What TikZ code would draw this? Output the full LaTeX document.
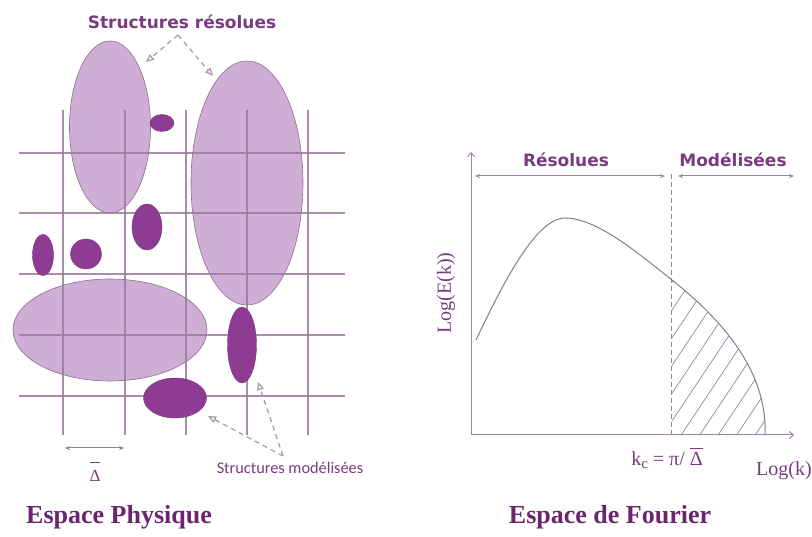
\documentclass[tikz,border=0pt]{standalone}
\usepackage{fontspec}
\setmainfont{Liberation Serif}
\newfontfamily\djv{DejaVu Sans}
\newfontfamily\carl{Carlito}
\usetikzlibrary{shapes.geometric,arrows.meta}
\definecolor{lightc}{HTML}{CFAED5}
\definecolor{lightedge}{HTML}{8C6E90}
\definecolor{darkc}{HTML}{8E3C93}
\definecolor{gridc}{HTML}{9A7A9E}
\definecolor{txtc}{HTML}{7A3A80}
\definecolor{ttlc}{HTML}{6A2470}
\definecolor{axc}{HTML}{9A84A0}
\definecolor{dashc}{HTML}{A8A0A8}
\begin{document}
\begin{tikzpicture}[x=1pt,y=-1pt,
  lightell/.style={ellipse, fill=lightc, draw=lightedge, line width=0.6pt, inner sep=0pt},
  darkell/.style={ellipse, fill=darkc, draw=darkc!85!black, line width=0.4pt, inner sep=0pt},
  gridline/.style={draw=gridc, line width=1.3pt, opacity=0.85},
  ptr/.style={draw=dashc, dash pattern=on 5pt off 4pt, line width=1.3pt, -{Triangle[open, length=8pt, width=7pt]}},
  axisline/.style={draw=axc, line width=1pt},
  span/.style={draw=axc, line width=1pt, {Stealth[length=5pt,width=4pt]}-{Stealth[length=5pt,width=4pt]}},
  hatchline/.style={draw=axc!90!black, line width=0.6pt},
  sanslab/.style={font=\djv\bfseries\fontsize{17}{19}\selectfont, text=txtc, inner sep=1pt},
  serlab/.style={font=\fontsize{20}{22}\selectfont, text=txtc, inner sep=1pt},
  ttl/.style={font=\bfseries\fontsize{26}{29}\selectfont, text=ttlc, inner sep=1pt}
]
\useasboundingbox (0,0) rectangle (812,537);

% ---------- Espace physique ----------
\node[lightell, minimum width=81pt, minimum height=172pt] (L1) at (110,127) {};
\node[lightell, minimum width=112pt, minimum height=244pt] (L2) at (247,183) {};
\node[lightell, minimum width=194pt, minimum height=102pt] (L3) at (110,330) {};

\foreach \x in {63,125,186,247,308}
  \draw[gridline] (\x,110) -- (\x,435);
\foreach \y in {153,213,274,335,396}
  \draw[gridline] (19,\y) -- (345,\y);

\node[darkell, minimum width=24pt, minimum height=17pt] (D1) at (162,123) {};
\node[darkell, minimum width=30pt, minimum height=46pt] (D2) at (147,227) {};
\node[darkell, minimum width=21pt, minimum height=41pt] (D3) at (43,255) {};
\node[darkell, minimum width=31pt, minimum height=30pt] (D4) at (86,254) {};
\node[darkell, minimum width=29pt, minimum height=76pt] (D5) at (242,345) {};
\node[darkell, minimum width=63pt, minimum height=40pt] (D6) at (175,398) {};

\node[sanslab] (sr) at (182,22) {Structures résolues};
\coordinate (srt) at (178,35);
\coordinate (sra) at (146,62);
\coordinate (srb) at (213,76);
\draw[ptr] (srt) -- (sra);
\draw[ptr] (srt) -- (srb);

\node[font=\carl\fontsize{16.3}{18}\selectfont, text=txtc, inner sep=1pt] (sm) at (290,468) {Structures modélisées};
\coordinate (smt) at (283,456);
\coordinate (sma) at (208,416);
\coordinate (smb) at (258,382);
\draw[ptr] (smt) -- (sma);
\draw[ptr] (smt) -- (smb);

\coordinate (d1) at (65,448);
\coordinate (d2) at (124,448);
\draw[draw=gridc, line width=1pt, {Stealth[length=5pt,width=4pt]}-{Stealth[length=5pt,width=4pt]}] (d1) -- (d2);
\node[font=\fontsize{17}{19}\selectfont, text=txtc, inner sep=0pt] (dl) at (95,472) {$\overline{\mbox{\rule{0pt}{1.05em}Δ}}$};

\node[ttl] (ep) at (119,517) {Espace Physique};

% ---------- Espace de Fourier ----------
\coordinate (O) at (471,435);
\coordinate (ytop) at (471,152);
\coordinate (xend) at (794,435);
\draw[axisline, -{Straight Barb[length=4pt,width=7pt]}] (O) -- (ytop);
\draw[axisline, -{Straight Barb[length=4pt,width=7pt]}] (O) -- (xend);

\begin{scope}
  \clip (672,280) .. controls (712,312) and (768,365) .. (765,435) -- (672,435) -- cycle;
  \foreach \x in {545,563.5,...,780}
    \draw[hatchline] (\x,445) -- ++(130,-195);
\end{scope}

\coordinate (kc) at (671,435);
\coordinate (kctop) at (671,172);
\draw[draw=axc, line width=1pt, dash pattern=on 5pt off 3pt] (kc) -- (kctop);

\draw[draw=axc!90!black, line width=1pt] (476,340) .. controls (510,268) and (540,216) .. (567,218)
  .. controls (600,220) and (640,255) .. (672,280)
  .. controls (712,312) and (768,365) .. (765,435);

\coordinate (r1) at (475,176);
\coordinate (r2) at (665,176);
\coordinate (m1) at (678,176);
\coordinate (m2) at (794,176);
\draw[span] (r1) -- (r2);
\draw[span] (m1) -- (m2);
\node[sanslab] (res) at (566,160) {Résolues};
\node[sanslab] (mod) at (733,160) {Modélisées};

\node[serlab, rotate=90] (ly) at (446,293) {Log(E(k))};
\node[serlab] (kl) at (667,458) {k\raisebox{-0.3ex}{\fontsize{15}{16}\selectfont c} = π/ $\overline{\mbox{\rule{0pt}{0.8em}Δ}}$};
\node[serlab] (lx) at (784,471) {Log(k)};

\node[ttl] (ef) at (610,517) {Espace de Fourier};
\end{tikzpicture}
\end{document}
